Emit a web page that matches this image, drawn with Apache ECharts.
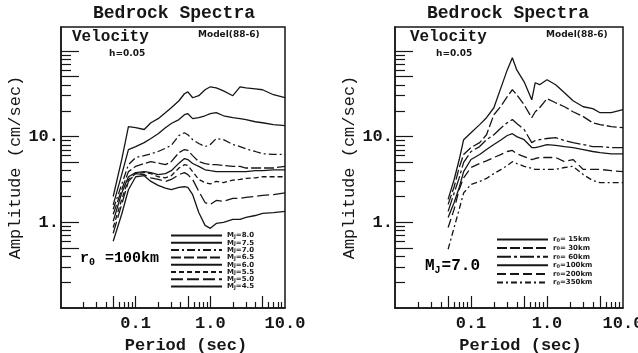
<!DOCTYPE html>
<html>
<head>
<meta charset="utf-8">
<script src="https://cdn.jsdelivr.net/npm/echarts@6/dist/echarts.min.js"></script>
<style>
html, body { margin: 0; background: #fff; }
#chart { width: 638px; height: 353px; }
</style>
</head>
<body>
<div id="chart"></div>
<script>
// periods (sec) sampled along each panel
var periodsL = [0.05, 0.065, 0.08, 0.1, 0.13, 0.16, 0.2, 0.25, 0.3, 0.38, 0.45, 0.5, 0.58, 0.7, 0.85, 1.0, 1.2, 1.5, 2.0, 2.5, 3.0, 4.0, 5.0, 7.0, 10.0];
var periodsR = [0.05, 0.06, 0.07, 0.08, 0.1, 0.13, 0.16, 0.2, 0.25, 0.3, 0.35, 0.4, 0.5, 0.63, 0.7, 0.8, 1.0, 1.3, 1.7, 2.2, 3.0, 4.0, 5.0, 7.0, 10.0];

// left panel: r0 = 100km, magnitude MJ varies (cm/sec)
var mj80 = [2.0, 5.4, 13.1, 12.7, 12.1, 14.5, 16.2, 19.0, 21.7, 26.2, 31.6, 33.3, 28.4, 30.0, 35.2, 38.1, 37.1, 34.2, 30.0, 38.1, 37.1, 36.1, 35.2, 30.8, 28.4];
var mj75 = [1.6, 3.6, 7.06, 7.65, 8.5, 9.5, 10.8, 12.7, 14.2, 15.8, 18.0, 18.5, 16.2, 16.6, 17.5, 18.5, 19.0, 17.5, 16.6, 16.2, 15.8, 14.9, 14.5, 13.8, 13.4];
var mj70 = [1.42, 2.77, 4.7, 5.7, 6.0, 6.3, 6.7, 7.3, 7.9, 10.3, 11.1, 10.5, 9.2, 8.3, 7.65, 8.1, 9.5, 9.2, 8.1, 7.65, 7.2, 6.7, 6.3, 6.2, 6.2];
var mj65 = [1.24, 2.4, 3.9, 4.5, 4.85, 5.1, 4.9, 4.7, 5.1, 6.5, 7.06, 6.9, 6.0, 5.1, 4.85, 4.7, 4.7, 4.6, 4.5, 4.5, 4.3, 4.3, 4.3, 4.3, 4.5];
var mj60 = [1.03, 2.2, 3.4, 3.8, 3.9, 3.8, 3.6, 3.7, 4.0, 4.9, 5.55, 5.4, 4.85, 4.5, 4.1, 4.0, 3.9, 3.9, 3.9, 3.9, 3.9, 4.0, 4.0, 4.1, 4.1];
var mj55 = [0.87, 1.85, 3.16, 3.7, 3.8, 3.7, 3.4, 3.3, 3.5, 4.3, 4.7, 4.6, 3.9, 3.16, 2.9, 2.8, 3.0, 2.9, 3.1, 3.16, 3.25, 3.3, 3.4, 3.4, 3.4];
var mj50 = [0.745, 1.62, 3.0, 3.7, 3.6, 3.3, 3.16, 3.0, 3.16, 3.6, 3.8, 3.6, 3.16, 2.3, 1.7, 1.62, 1.8, 1.76, 1.9, 1.9, 1.95, 2.0, 2.06, 2.1, 2.2];
var mj45 = [0.6, 1.24, 2.4, 3.4, 3.5, 3.0, 2.7, 2.5, 2.4, 2.55, 2.6, 2.55, 2.1, 1.3, 0.92, 0.85, 0.97, 1.0, 1.08, 1.08, 1.14, 1.2, 1.27, 1.3, 1.34];

// right panel: MJ = 7.0, distance r0 varies (cm/sec)
var r15 = [1.85, 3.16, 5.4, 9.2, 11.1, 13.8, 16.6, 21.7, 38, 60, 83, 60, 43.6, 26.9, 42.5, 40.3, 46, 40.3, 32.5, 26.2, 22.3, 21.2, 19.0, 19.0, 20.6];
var r30 = [1.62, 2.6, 4.36, 6.18, 7.45, 8.5, 10.5, 18.0, 22.9, 29.2, 35.2, 30.8, 23.5, 16.6, 19.5, 21.7, 27.7, 24.8, 22.3, 19.5, 17.1, 14.5, 13.8, 13.1, 12.7];
var r60 = [1.34, 2.2, 3.3, 5.0, 6.7, 7.65, 9.2, 10.5, 12.7, 14.5, 15.8, 14.2, 12.1, 8.5, 9.0, 9.2, 9.5, 9.7, 9.0, 8.5, 8.07, 7.65, 7.65, 7.45, 7.45];
var r100 = [1.14, 1.7, 2.55, 3.9, 5.4, 6.18, 7.06, 8.07, 9.2, 10.3, 10.8, 10.0, 9.2, 7.45, 7.45, 7.65, 8.07, 7.9, 7.65, 7.45, 7.06, 6.7, 6.5, 6.3, 6.3];
var r200 = [0.87, 1.42, 2.42, 3.3, 4.36, 4.85, 5.2, 5.7, 6.2, 6.7, 6.9, 6.3, 5.85, 5.4, 5.55, 5.7, 5.7, 5.7, 5.1, 5.4, 4.14, 4.14, 4.14, 4.0, 3.9];
var r350 = [0.485, 0.87, 1.42, 2.2, 2.77, 3.0, 3.25, 3.7, 4.14, 4.6, 5.1, 4.85, 4.5, 4.25, 4.14, 4.14, 4.14, 4.14, 4.36, 4.5, 3.6, 3.07, 2.9, 2.9, 2.9];

var namesL = ['MJ=8.0', 'MJ=7.5', 'MJ=7.0', 'MJ=6.5', 'MJ=6.0', 'MJ=5.5', 'MJ=5.0', 'MJ=4.5'];
var namesR = ['r0= 15km', 'r0= 30km', 'r0= 60km', 'r0=100km', 'r0=200km', 'r0=350km'];

// tick positions and labels
var xMajorTicks = [0.05, 0.1, 0.5, 1, 5];
var xMinorTicks = [0.02, 0.03, 0.04, 0.06, 0.07, 0.08, 0.09, 0.2, 0.3, 0.4, 0.6, 0.7, 0.8, 0.9, 2, 3, 4, 6, 7, 8, 9];
var xLabels = [0.1, 1, 10];
var yMajorTicks = [0.5, 1, 5, 10, 50, 100];
var yMinorTicks = [0.2, 0.3, 0.4, 0.6, 0.7, 0.8, 0.9, 2, 3, 4, 6, 7, 8, 9, 20, 30, 40, 60, 70, 80, 90];
var yLabels = [1, 10];

var ink = '#161616';
var mono = '"Liberation Mono", "DejaVu Sans Mono", monospace';
var sans = '"DejaVu Sans", "Liberation Sans", sans-serif';

var dashL = ['solid', 'solid', [8, 3, 2, 3], [10, 3], 'solid', [5, 3], [12, 4], 'solid'];
var dashR = ['solid', [10, 3], [14, 3, 3, 3], 'solid', [9, 4], [6, 3, 2, 3]];

function pairs(xs, ys) {
    return xs.map(function (x, i) { return [x, ys[i]]; });
}

function xAxisPair(g, shift) {
    var base = {
        type: 'log', gridIndex: g, min: 0.01, max: 10, position: 'bottom',
        splitLine: { show: false }
    };
    return [
        Object.assign({}, base, {
            axisLine: { show: true, lineStyle: { color: ink, width: 1.5 } },
            axisTick: { show: true, inside: true, length: 12, customValues: xMajorTicks, lineStyle: { color: ink, width: 1.2 } },
            axisLabel: {
                customValues: xLabels, margin: 7, color: ink,
                fontFamily: mono, fontSize: 17, fontWeight: 'bold',
                formatter: function (v) { return v < 0.5 ? '0.1' : v.toFixed(1); }
            },
            name: 'Period (sec)', nameLocation: 'middle', nameGap: 27,
            nameTextStyle: { color: ink, fontFamily: mono, fontSize: 17, fontWeight: 'bold', padding: [0, 0, 0, shift] }
        }),
        Object.assign({}, base, {
            axisLine: { show: false },
            axisTick: { show: true, inside: true, length: 6, customValues: xMinorTicks, lineStyle: { color: ink, width: 1.2 } },
            axisLabel: { show: false }
        })
    ];
}

function yAxisPair(g) {
    var base = {
        type: 'log', gridIndex: g, min: 0.1, max: 190, position: 'left',
        splitLine: { show: false }
    };
    return [
        Object.assign({}, base, {
            axisLine: { show: true, lineStyle: { color: ink, width: 1.5 } },
            axisTick: { show: true, inside: true, length: 18, customValues: yMajorTicks, lineStyle: { color: ink, width: 1.2 } },
            axisLabel: {
                customValues: yLabels, margin: 2, color: ink,
                fontFamily: mono, fontSize: 17, fontWeight: 'bold',
                formatter: function (v) { return Math.round(v) + '.'; }
            },
            name: 'Amplitude (cm/sec)', nameLocation: 'middle', nameGap: 33, nameRotate: 90,
            nameTextStyle: { color: ink, fontFamily: mono, fontSize: 17 }
        }),
        Object.assign({}, base, {
            axisLine: { show: false },
            axisTick: { show: true, inside: true, length: 10, customValues: yMinorTicks, lineStyle: { color: ink, width: 1.2 } },
            axisLabel: { show: false }
        })
    ];
}

function lineSeries(name, xs, ys, axisIdx, dash) {
    return {
        name: name, type: 'line', xAxisIndex: axisIdx, yAxisIndex: axisIdx,
        data: pairs(xs, ys), symbol: 'none', silent: true,
        lineStyle: { color: ink, width: 1.3, type: dash },
        itemStyle: { color: ink }
    };
}

var valsL = [mj80, mj75, mj70, mj65, mj60, mj55, mj50, mj45];
var valsR = [r15, r30, r60, r100, r200, r350];

var series = [];
valsL.forEach(function (v, i) { series.push(lineSeries(namesL[i], periodsL, v, 0, dashL[i])); });
valsR.forEach(function (v, i) { series.push(lineSeries(namesR[i], periodsR, v, 2, dashR[i])); });

var legendText = {
    fontFamily: sans, fontSize: 7, fontWeight: 'bold', color: ink, lineHeight: 7,
    rich: {
        a: { fontFamily: sans, fontSize: 7, fontWeight: 'bold', color: ink, lineHeight: 7 },
        b: { fontFamily: sans, fontSize: 5, fontWeight: 'bold', color: ink, lineHeight: 5, padding: [2, 0, 0, 0] }
    }
};
function legendFmt(name) {
    return '{a|' + name.charAt(0) + '}{b|' + name.charAt(1) + '}{a|' + name.slice(2) + '}';
}

var annoRich = {
    a: { fontFamily: mono, fontSize: 15, fontWeight: 'bold', color: ink },
    b: { fontFamily: mono, fontSize: 10, fontWeight: 'bold', color: ink, padding: [8, 1, 0, 0] }
};
var annoRichR = {
    a: { fontFamily: mono, fontSize: 16, fontWeight: 'bold', color: ink },
    b: { fontFamily: mono, fontSize: 10, fontWeight: 'bold', color: ink, padding: [8, 1, 0, 0] }
};
var hiddenSymbol = { color: 'transparent', borderWidth: 0, opacity: 0 };

var chart = echarts.init(document.getElementById('chart'));
chart.setOption({
    animation: false,
    backgroundColor: '#fff',
    title: [
        { text: 'Bedrock Spectra', left: 93, top: 4, padding: 0,
          textStyle: { fontFamily: mono, fontSize: 18, fontWeight: 'bold', color: ink } },
        { text: 'Bedrock Spectra', left: 427, top: 4, padding: 0,
          textStyle: { fontFamily: mono, fontSize: 18, fontWeight: 'bold', color: ink } }
    ],
    grid: [
        { left: 61, top: 27, width: 224, height: 281, outerBoundsMode: 'none', containLabel: false,
          show: true, borderColor: ink, borderWidth: 1.5, backgroundColor: 'transparent' },
        { left: 395, top: 27, width: 228, height: 281, outerBoundsMode: 'none', containLabel: false,
          show: true, borderColor: ink, borderWidth: 1.5, backgroundColor: 'transparent' }
    ],
    xAxis: xAxisPair(0, 26).concat(xAxisPair(1, 23)),
    yAxis: yAxisPair(0).concat(yAxisPair(1)),
    legend: [
        { data: namesL, orient: 'vertical', left: 170, top: 232, padding: 0,
          itemWidth: 51, itemHeight: 7, itemGap: 0.3, selectedMode: false,
          itemStyle: hiddenSymbol, textStyle: legendText, formatter: legendFmt },
        { data: namesR, orient: 'vertical', left: 496, top: 236, padding: 0,
          itemWidth: 51, itemHeight: 7, itemGap: 1.6, selectedMode: false,
          itemStyle: hiddenSymbol, textStyle: legendText, formatter: legendFmt }
    ],
    graphic: [
        { type: 'text', left: 72, top: 29, style: { text: 'Velocity', font: 'bold 16px ' + mono, fill: ink } },
        { type: 'text', left: 109, top: 49, style: { text: 'h=0.05', font: 'bold 9px ' + sans, fill: ink } },
        { type: 'text', left: 198, top: 30, style: { text: 'Model(88-6)', font: 'bold 9px ' + sans, fill: ink } },
        { type: 'text', left: 410, top: 29, style: { text: 'Velocity', font: 'bold 16px ' + mono, fill: ink } },
        { type: 'text', left: 436, top: 49, style: { text: 'h=0.05', font: 'bold 9px ' + sans, fill: ink } },
        { type: 'text', left: 546, top: 30, style: { text: 'Model(88-6)', font: 'bold 9px ' + sans, fill: ink } },
        { type: 'text', left: 80, top: 251, style: { text: '{a|r}{b|0}{a| =100km}', rich: annoRich } },
        { type: 'text', left: 425, top: 258, style: { text: '{a|M}{b|J}{a|=7.0}', rich: annoRichR } }
    ],
    series: series
});
</script>
</body>
</html>
